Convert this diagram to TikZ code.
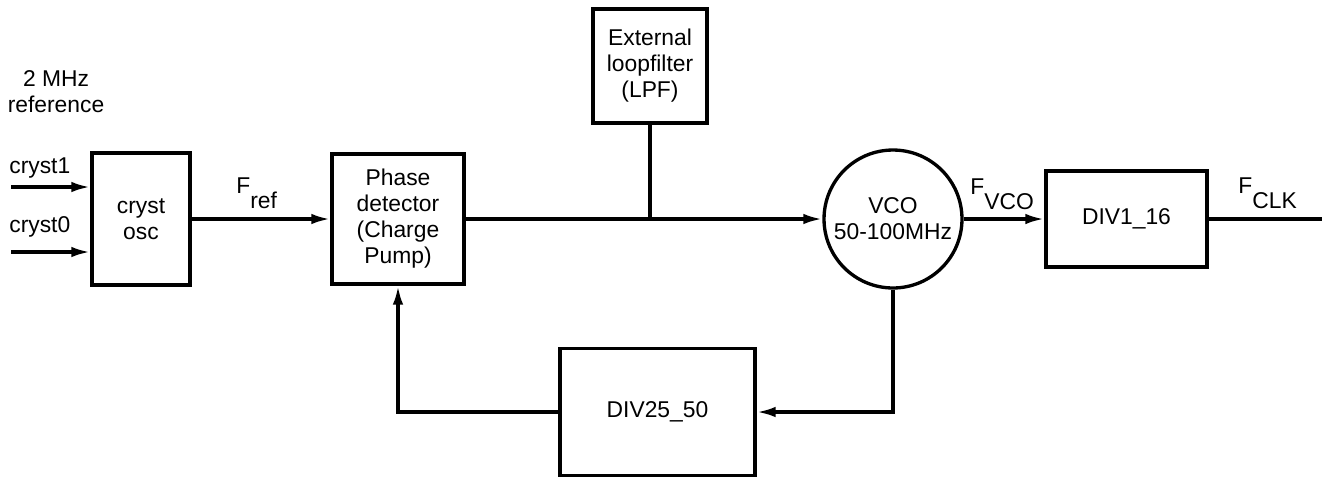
\documentclass[tikz,border=0pt]{standalone}
\usepackage{fontspec}
\setmainfont{Liberation Sans}
\usetikzlibrary{arrows.meta,positioning,calc}
\newcommand{\fsub}[1]{F\raisebox{-0.7em}{#1}}

\begin{document}
\begin{tikzpicture}[x=0.02cm,y=-0.02cm,font=\fontsize{13}{14.8}\selectfont,
block/.style={draw,line width=1.9pt,align=center,inner sep=2pt},
arrow/.style={-{Latex[length=3.8mm,width=2.1mm]},line width=1.9pt},
wire/.style={line width=1.9pt},
lbl/.style={inner sep=0pt}]
\useasboundingbox (0,0) rectangle (1322,478);
\node[lbl,align=center] (refnote) at (56,92) {2 MHz\\reference};
\node[lbl,anchor=west] (c1lbl) at (9,168) {cryst1};
\node[lbl,anchor=west] (c0lbl) at (9,227) {cryst0};
\node[block,minimum width=1.96cm,minimum height=2.64cm] (osc) at (141,219) {cryst\\osc};
\node[block,minimum width=2.64cm,minimum height=2.6cm] (phase) at (398,219) {Phase\\detector\\(Charge\\Pump)};
\node[block,minimum width=2.28cm,minimum height=2.28cm] (lpf) at (650,66) {External\\loopfilter\\(LPF)};
\node[block,circle,minimum size=2.76cm,inner sep=0pt] (vco) at (893,219) {VCO\\50-100MHz};
\node[block,minimum width=3.22cm,minimum height=1.92cm] (div1) at (1126.5,219) {DIV1\_16};
\node[block,minimum width=3.9cm,minimum height=2.54cm] (div25) at (657.5,412) {DIV25\_50};
\coordinate (in1) at (11,187);
\coordinate (in0) at (11,252);
\coordinate (clkout) at (1322,219);
\draw[arrow] (in1) -- (in1 -| osc.west);
\draw[arrow] (in0) -- (in0 -| osc.west);
\draw[arrow] (osc.east) -- (phase.west);
\node[lbl,anchor=base west] (fref) at (236,193) {\fsub{ref}};
\draw[arrow] (phase.east) -- (vco.west);
\draw[wire] (lpf.south) -- (lpf.south |- phase.east);
\draw[arrow] (vco.east) -- (div1.west);
\node[lbl,anchor=base west] (fvco) at (970,194) {\fsub{VCO}};
\draw[wire] (div1.east) -- (clkout);
\node[lbl,anchor=base west] (fclk) at (1238,193) {\fsub{CLK}};
\draw[arrow] (vco.south) |- (div25.east);
\draw[arrow] (div25.west) -| (phase.south);
\end{tikzpicture}
\end{document}
